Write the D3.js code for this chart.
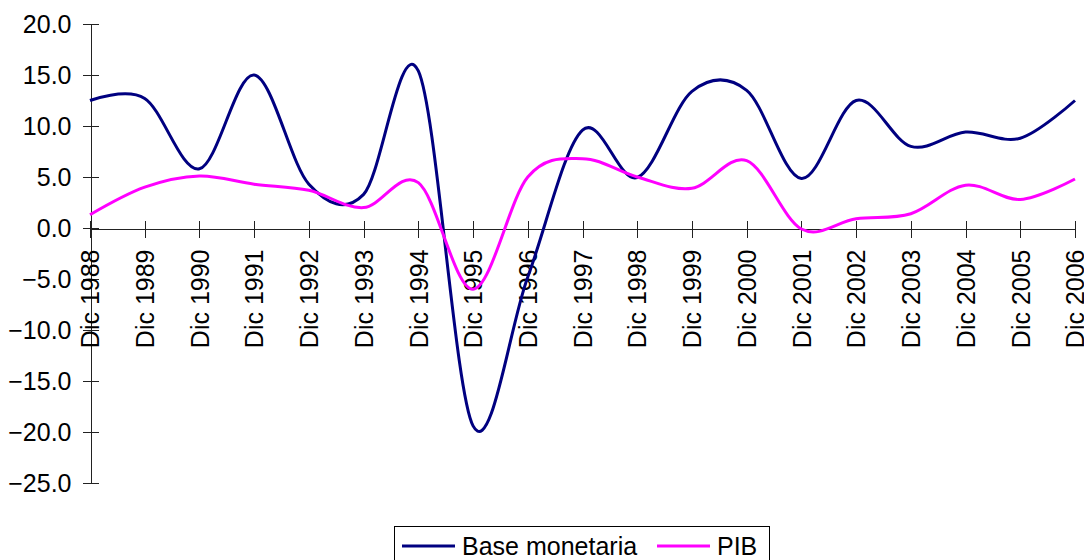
<!DOCTYPE html>
<html lang="es">
<head>
    <meta charset="UTF-8">
    <title>Base monetaria y PIB</title>
    <script src="https://d3js.org/d3.v7.min.js"></script>
    <style>
    body{
        margin: 0;
        background: #fff;
    }
    svg text{
        font-family: "Liberation Sans", Arial, sans-serif;
        font-size: 25px;
        fill: #000;
    }
    .axis path,
    .axis line{
        fill: none;
        stroke: #222;
        shape-rendering: crispEdges;
    }
    .serie{
        fill: none;
        stroke-width: 3px;
    }
    </style>
</head>
<body>
    <script>
    var width = 1084;
    var height = 560;

    // datos
    var categorias = ["Dic 1988", "Dic 1989", "Dic 1990", "Dic 1991", "Dic 1992", "Dic 1993",
        "Dic 1994", "Dic 1995", "Dic 1996", "Dic 1997", "Dic 1998", "Dic 1999", "Dic 2000",
        "Dic 2001", "Dic 2002", "Dic 2003", "Dic 2004", "Dic 2005", "Dic 2006"];
    var baseMonetaria = [12.5, 12.7, 5.8, 15.0, 4.3, 3.3, 15.4, -19.4, -4.8, 9.6,
        4.95, 13.4, 13.5, 4.85, 12.5, 8.0, 9.4, 8.8, 12.5];
    var pib = [1.3, 4.0, 5.1, 4.3, 3.7, 2.0, 4.45, -6.0, 5.0, 6.8,
        5.0, 3.9, 6.6, -0.1, 0.9, 1.4, 4.2, 2.8, 4.8];
    var yTicks = [-25, -20, -15, -10, -5, 0, 5, 10, 15, 20];

    var series = [
        {nombre: "Base monetaria", valores: baseMonetaria, color: "#000080"},
        {nombre: "PIB", valores: pib, color: "#ff00ff"}
    ];

    var svg = d3.select("body")
        .append("svg")
        .attr("width", width)
        .attr("height", height);

    // escalas
    var xScale = d3.scalePoint()
        .domain(categorias)
        .range([90, 1075]);

    var yScale = d3.scaleLinear()
        .domain([-25, 20])
        .range([483, 24]);

    // eje Y
    var yAxis = d3.axisLeft(yScale)
        .tickValues(yTicks)
        .tickFormat(d3.format(".1f"))
        .tickSizeOuter(0)
        .tickPadding(11);

    var gy = svg.append("g")
        .attr("class", "axis")
        .attr("transform", "translate(90.5,0)")
        .call(yAxis);
    gy.selectAll(".tick line").attr("x1", 8).attr("x2", -8);
    gy.selectAll(".tick text").attr("x", -19).style("font-size", "25px").style("font-family", null);

    // eje X (en y = 0)
    var xAxis = d3.axisBottom(xScale)
        .tickSizeOuter(0);

    var gx = svg.append("g")
        .attr("class", "axis")
        .attr("transform", "translate(0," + (Math.round(yScale(0)) + 0.5) + ")")
        .call(xAxis);
    gx.selectAll(".tick line").attr("y1", -8).attr("y2", 9);
    gx.selectAll(".tick text")
        .attr("y", 0)
        .attr("dy", "0.35em")
        .attr("text-anchor", "end")
        .attr("transform", "translate(0,21) rotate(-90)")
        .style("font-size", "25px")
        .style("font-family", null);

    // lineas suavizadas
    var line = d3.line()
        .x(function(d, i) { return xScale(categorias[i]); })
        .y(function(d) { return yScale(d); })
        .curve(d3.curveCardinal.tension(0));

    svg.selectAll(".serie")
        .data(series).enter()
        .append("path")
        .attr("class", "serie")
        .attr("stroke", function(d) { return d.color; })
        .attr("d", function(d) { return line(d.valores); });

    // leyenda
    var legend = svg.append("g");
    legend.append("rect")
        .attr("x", 394.5)
        .attr("y", 526.5)
        .attr("width", 375)
        .attr("height", 40)
        .attr("fill", "#fff")
        .attr("stroke", "#000")
        .attr("stroke-width", 1);

    var items = [
        {serie: series[0], x: 402},
        {serie: series[1], x: 657}
    ];
    var item = legend.selectAll(".item")
        .data(items).enter()
        .append("g")
        .attr("class", "item")
        .attr("transform", function(d) { return "translate(" + d.x + ",546)"; });
    item.append("line")
        .attr("x1", 0).attr("x2", 53)
        .attr("y1", 0).attr("y2", 0)
        .attr("stroke", function(d) { return d.serie.color; })
        .attr("stroke-width", 3);
    item.append("text")
        .attr("x", 60)
        .attr("y", 8.5)
        .text(function(d) { return d.serie.nombre; });
    </script>
</body>
</html>
